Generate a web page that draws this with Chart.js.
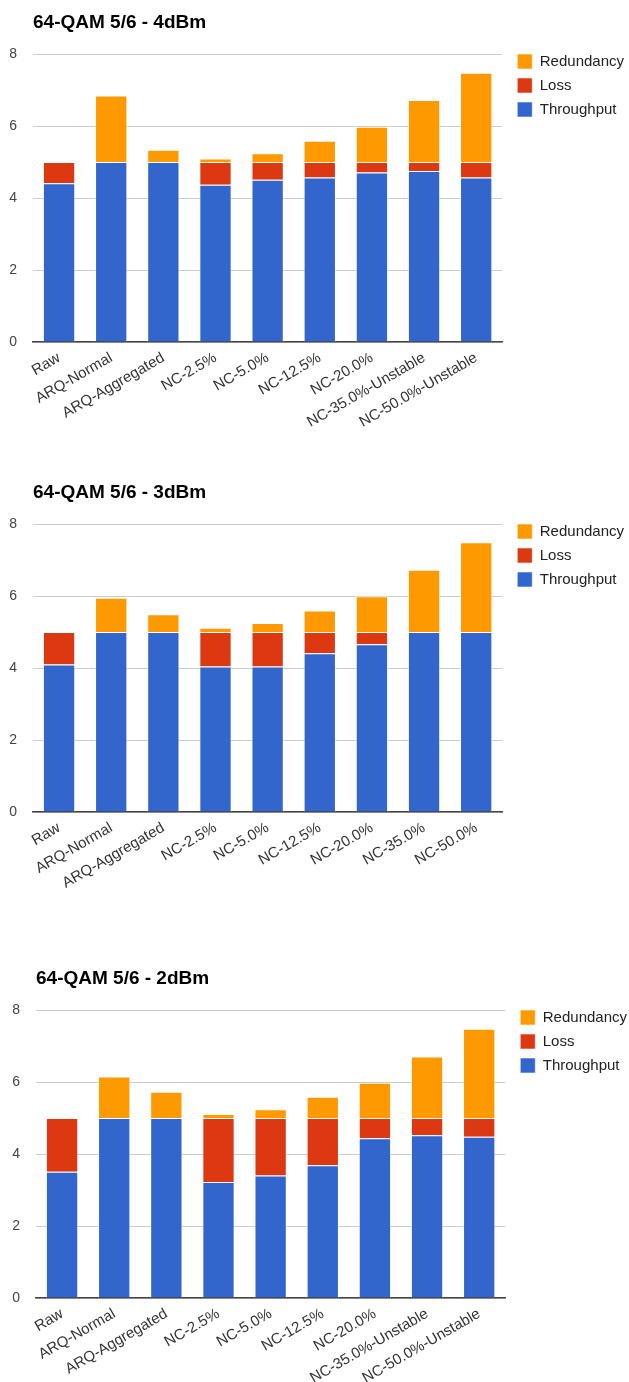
<!DOCTYPE html>
<html>
<head>
<meta charset="utf-8">
<title>64-QAM 5/6</title>
<script src="https://cdn.jsdelivr.net/npm/chart.js@4.4.1/dist/chart.umd.min.js"></script>
<style>
  html, body {
    margin: 0;
    padding: 0;
    background: #fff;
    width: 629px;
    height: 1382px;
    overflow: hidden;
  }
  canvas {
    position: absolute;
  }
</style>
</head>
<body>
<canvas id="chart4dBm" width="629" height="440" style="left:0;top:0"></canvas>
<canvas id="chart3dBm" width="629" height="440" style="left:0;top:470px"></canvas>
<canvas id="chart2dBm" width="629" height="440" style="left:3px;top:956px"></canvas>

<script>
const categories = [
  "Raw", "ARQ-Normal", "ARQ-Aggregated", "NC-2.5%", "NC-5.0%",
  "NC-12.5%", "NC-20.0%", "NC-35.0%-Unstable", "NC-50.0%-Unstable",
];
const categories3dBm = [
  "Raw", "ARQ-Normal", "ARQ-Aggregated", "NC-2.5%", "NC-5.0%",
  "NC-12.5%", "NC-20.0%", "NC-35.0%", "NC-50.0%",
];
const yTicks = [0, 2, 4, 6, 8];

// 4dBm
const throughput4dBm = [4.41, 5.0, 5.0, 4.37, 4.51, 4.57, 4.71, 4.75, 4.57];
const loss4dBm = [0.59, 0, 0, 0.63, 0.49, 0.43, 0.29, 0.25, 0.43];
const redundancy4dBm = [0, 1.85, 0.34, 0.1, 0.24, 0.59, 0.98, 1.72, 2.48];

// 3dBm
const throughput3dBm = [4.1, 5.0, 5.0, 4.04, 4.04, 4.41, 4.66, 5.0, 5.0];
const loss3dBm = [0.9, 0, 0, 0.96, 0.96, 0.59, 0.34, 0, 0];
const redundancy3dBm = [0, 0.95, 0.49, 0.12, 0.25, 0.6, 0.99, 1.73, 2.49];

// 2dBm
const throughput2dBm = [3.51, 5.0, 5.0, 3.22, 3.4, 3.69, 4.44, 4.52, 4.48];
const loss2dBm = [1.49, 0, 0, 1.78, 1.6, 1.31, 0.56, 0.48, 0.52];
const redundancy2dBm = [0, 1.15, 0.73, 0.11, 0.24, 0.59, 0.98, 1.71, 2.48];

const blue = "#3366cc";
const red = "#dc3912";
const orange = "#ff9900";
const fontFamily = "'Liberation Sans', Arial, sans-serif";

// title lines up with the plot's left edge, legend sits a bit right of the
// plot with its first box level with the top gridline
const blockPlacement = {
  id: "blockPlacement",
  afterLayout(chart) {
    const pad = chart.options.plugins.legend.labels.padding;
    chart.titleBlock.left = chart.chartArea.left;
    chart.legend.top = chart.chartArea.top - pad;
    chart.legend.left = chart.chartArea.right + 15 - pad;
  },
};

function makeChart(canvasId, title, labels, throughput, loss, redundancy) {
  const ctx = document.getElementById(canvasId).getContext("2d");
  const dataset = (label, data, color) => ({
    label: label,
    data: data,
    backgroundColor: color,
    borderColor: "rgba(255,255,255,0.55)",
    borderWidth: 1,
  });

  return new Chart(ctx, {
    type: "bar",
    data: {
      labels: labels,
      datasets: [
        dataset("Throughput", throughput, blue),
        dataset("Loss", loss, red),
        dataset("Redundancy", redundancy, orange),
      ],
    },
    plugins: [blockPlacement],
    options: {
      responsive: false,
      animation: false,
      devicePixelRatio: 1,
      layout: {
        padding: { left: 0, right: 1, top: 0, bottom: 0 },
      },
      datasets: {
        bar: {
          categoryPercentage: 1,
          barPercentage: 0.62,
        },
      },
      plugins: {
        title: {
          display: true,
          text: title,
          align: "start",
          color: "#000",
          font: { family: fontFamily, size: 19, weight: "bold" },
          padding: { top: 11.6, bottom: 19.6 },
        },
        legend: {
          position: "right",
          align: "start",
          fullSize: false,
          reverse: true,
          labels: {
            boxWidth: 15,
            boxHeight: 15,
            padding: 9,
            color: "#222",
            font: { family: fontFamily, size: 15 },
          },
        },
        tooltip: { enabled: false },
      },
      scales: {
        x: {
          stacked: true,
          afterFit: (scale) => {
            scale.height = 98;
          },
          grid: { display: false, drawTicks: false },
          border: { display: true, color: "#444", width: 1.5 },
          ticks: {
            minRotation: 30,
            maxRotation: 30,
            autoSkip: false,
            padding: 7,
            color: "#333",
            font: { family: fontFamily, size: 15 },
          },
        },
        y: {
          stacked: true,
          min: 0,
          max: 8,
          afterFit: (scale) => {
            scale.width = 33;
          },
          afterBuildTicks: (scale) => {
            scale.ticks = yTicks.map((v) => ({ value: v }));
          },
          grid: { color: "#cccccc", drawTicks: false },
          border: { display: false },
          ticks: {
            padding: 16,
            color: "#444",
            font: { family: fontFamily, size: 14 },
          },
        },
      },
    },
  });
}

makeChart("chart4dBm", "64-QAM 5/6 - 4dBm", categories,
  throughput4dBm, loss4dBm, redundancy4dBm);
makeChart("chart3dBm", "64-QAM 5/6 - 3dBm", categories3dBm,
  throughput3dBm, loss3dBm, redundancy3dBm);
makeChart("chart2dBm", "64-QAM 5/6 - 2dBm", categories,
  throughput2dBm, loss2dBm, redundancy2dBm);
</script>
</body>
</html>
